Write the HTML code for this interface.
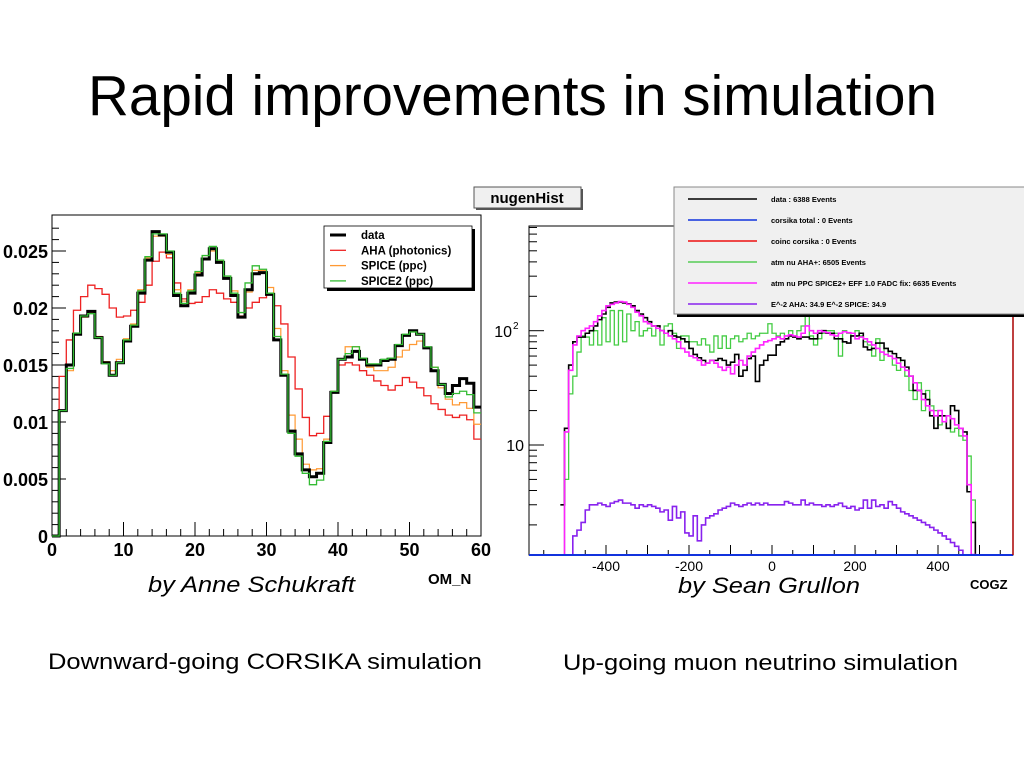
<!DOCTYPE html>
<html><head><meta charset="utf-8"><style>
html,body{margin:0;padding:0;background:#fff;}
svg{display:block;font-family:"Liberation Sans",sans-serif;}
</style></head><body>
<svg id="s" width="1024" height="768" viewBox="0 0 1024 768">
<text x="88" y="115" font-size="57" textLength="849" lengthAdjust="spacingAndGlyphs">Rapid improvements in simulation</text>
<g id="left"></g>
<g id="right"></g>
<text x="148" y="592" font-size="22" font-style="italic" textLength="207" lengthAdjust="spacingAndGlyphs">by Anne Schukraft</text>
<text x="678" y="593" font-size="22" font-style="italic" textLength="182" lengthAdjust="spacingAndGlyphs">by Sean Grullon</text>
<text x="48" y="669" font-size="22" textLength="434" lengthAdjust="spacingAndGlyphs">Downward-going CORSIKA simulation</text>
<text x="563" y="670" font-size="22" textLength="395" lengthAdjust="spacingAndGlyphs">Up-going muon neutrino simulation</text>
</svg>
<script>
// ---------- Left chart data (OM_N, 60 bins) ----------
const leftData = [0,0.011,0.015,0.0177,0.0193,0.0197,0.0174,0.0152,0.0141,0.0152,0.0171,0.0184,0.0213,0.0242,0.0267,0.0264,0.0249,0.0211,0.0202,0.0213,0.0229,0.0243,0.0252,0.024,0.0226,0.0211,0.0192,0.0216,0.0230,0.0231,0.0212,0.0172,0.0141,0.0092,0.0072,0.0058,0.0052,0.0055,0.0082,0.0126,0.0155,0.0157,0.0162,0.0155,0.0150,0.0150,0.0154,0.0155,0.0167,0.0176,0.0180,0.0177,0.0165,0.0145,0.0133,0.0125,0.0132,0.0138,0.0134,0.0113];
const leftAHA = [0,0.014,0.0172,0.0198,0.021,0.022,0.0217,0.0212,0.0200,0.0192,0.0193,0.0198,0.0205,0.0220,0.0241,0.0249,0.0244,0.0222,0.0208,0.0204,0.0205,0.0210,0.0216,0.0213,0.0208,0.0205,0.0193,0.0200,0.0205,0.0209,0.0213,0.0202,0.0186,0.0157,0.0129,0.0104,0.0088,0.009,0.0105,0.0126,0.0150,0.0152,0.0150,0.0145,0.0141,0.0136,0.0132,0.0128,0.0132,0.0139,0.0135,0.0130,0.0123,0.0116,0.0111,0.0106,0.0104,0.0106,0.0102,0.0085];
const leftSPICE = [0,0.011,0.0145,0.0178,0.0192,0.0196,0.0175,0.0153,0.0145,0.0155,0.0173,0.0186,0.0216,0.0244,0.0263,0.0263,0.0247,0.0216,0.0206,0.0216,0.0231,0.0246,0.0250,0.0241,0.0228,0.0215,0.0196,0.0214,0.0233,0.0233,0.0218,0.0182,0.0145,0.0106,0.0085,0.0063,0.0058,0.0059,0.0085,0.0127,0.0155,0.0166,0.0166,0.0156,0.0148,0.0145,0.0145,0.0148,0.0157,0.0163,0.0168,0.0171,0.0165,0.0148,0.0130,0.0120,0.0115,0.0117,0.0112,0.0098];
const leftSPICE2 = [0,0.011,0.0147,0.0178,0.0193,0.0195,0.0174,0.0151,0.0141,0.0152,0.0172,0.0185,0.0215,0.0245,0.0265,0.0265,0.0250,0.0213,0.0204,0.0215,0.0232,0.0246,0.0254,0.0242,0.0228,0.0213,0.0196,0.0222,0.0237,0.0234,0.0213,0.0175,0.0142,0.0090,0.0070,0.0055,0.0045,0.0049,0.0083,0.0127,0.0155,0.0160,0.0166,0.0156,0.0151,0.0151,0.0155,0.0156,0.0168,0.0177,0.0179,0.0177,0.0166,0.0148,0.0133,0.0122,0.0125,0.0127,0.0124,0.0108];
const leftYTicks = [0,0.005,0.01,0.015,0.02,0.025];
const leftYLabels = ["0","0.005","0.01","0.015","0.02","0.025"];
const leftXTicks = [0,10,20,30,40,50,60];
const leftLegend = ["data","AHA (photonics)","SPICE (ppc)","SPICE2 (ppc)"];

// ---------- Right chart data (COGZ, 100 bins of 10 from -510) ----------
const rightData = [3,14,50,80,88,88,95,100,110,125,140,160,175,178,178,175,172,165,150,140,130,120,110,110,100,95,100,90,88,85,80,70,62,58,55,52,55,55,57,55,50,53,62,40,45,57,60,36,50,55,61,61,75,80,85,90,88,85,88,88,85,85,95,100,95,95,85,85,80,78,90,90,95,72,68,70,78,78,70,66,63,58,55,48,40,30,30,28,25,18,14,18,18,14,22,20,14,13,3.9,2.1];
const rightPPC = [1,13,45,75,90,100,105,110,120,135,150,165,170,175,180,178,170,160,145,135,120,115,110,105,100,95,90,85,80,70,65,60,58,55,50,52,55,52,48,45,48,42,50,55,50,60,65,70,75,80,82,85,88,85,90,92,90,88,95,110,100,95,100,98,96,92,90,95,98,96,95,85,88,85,80,75,70,65,62,60,57,52,48,45,40,35,30,25,22,20,18,20,16,18,17,15,14,12,4.5,1.1];
const rightAHA = [0,5,28,40,65,90,88,75,100,75,130,80,150,75,150,80,140,100,120,90,100,105,90,110,75,110,115,95,70,90,90,80,80,75,85,75,65,90,70,90,70,85,90,80,85,95,85,90,95,95,115,95,90,95,85,100,90,100,110,140,90,75,85,95,100,100,95,60,100,95,90,100,90,80,75,60,85,55,70,60,50,45,55,40,30,25,35,20,30,22,20,15,18,14,13,14,12,11,8,3.3];
const rightE2 = [0,0,0,1.6,1.8,2.1,2.7,3.0,3.0,3.1,3.0,2.9,3.1,3.2,3.3,3.1,3.1,3.0,2.8,3.0,2.9,3.0,2.9,2.8,2.6,2.7,2.2,2.9,2.3,2.6,1.7,1.6,2.4,1.45,2.0,2.3,2.4,2.5,2.7,2.8,2.9,3.1,3.0,2.9,3.0,3.1,3.0,3.1,3.0,3.1,3.0,3.0,3.0,3.0,3.2,3.1,3.0,3.0,3.3,3.0,3.1,3.0,3.0,2.9,3.0,2.9,3.0,3.1,2.9,2.8,2.9,2.7,2.8,3.3,2.8,3.3,2.9,3.0,2.8,3.2,3.0,2.8,2.6,2.5,2.4,2.3,2.2,2.1,2.0,1.9,1.8,1.7,1.6,1.5,1.4,1.3,1.2,1.05,0,0];
const rightXTicks = [-400,-200,0,200,400];
const rightLegend = ["data : 6388 Events","corsika total : 0 Events","coinc corsika : 0 Events","atm nu AHA+: 6505 Events","atm nu PPC SPICE2+ EFF 1.0 FADC fix: 6635 Events","E^-2 AHA: 34.9 E^-2 SPICE: 34.9"];

const NS='http://www.w3.org/2000/svg';
function mk(parent,tag,attrs,text){const e=document.createElementNS(NS,tag);for(const k in attrs)e.setAttribute(k,attrs[k]);if(text!==undefined)e.textContent=text;parent.appendChild(e);return e;}

// ---------- LEFT ----------
const L=document.getElementById('left');
const lx0=52,lx1=481,ly0=536,ly1=215;
const xL=v=>lx0+v*(lx1-lx0)/60;
const yL=v=>ly0-v*11400;
let fr=mk(L,'rect',{x:lx0,y:ly1,width:lx1-lx0,height:ly0-ly1,fill:'#fff',stroke:'#000','stroke-width':1});


for(let v=0;v<=0.0275;v+=0.001){const big=Math.abs(v/0.005-Math.round(v/0.005))<1e-6;
 let t=mk(L,'line',{x1:lx0,x2:lx0+(big?14:7),y1:yL(v),y2:yL(v),stroke:'#000','stroke-width':1});
 
 }
for(let v=0;v<=60;v+=2){const big=v%10===0;
 let t=mk(L,'line',{x1:xL(v),x2:xL(v),y1:ly0,y2:ly0-(big?14:7),stroke:'#000','stroke-width':1});
 
 }
leftYTicks.forEach((v,i)=>{let t=mk(L,'text',{x:lx0-4,y:yL(v)+7,'font-size':18,'font-weight':'bold','text-anchor':'end'},leftYLabels[i]);
 
 });
leftXTicks.forEach(v=>{let t=mk(L,'text',{x:xL(v),y:556,'font-size':18,'font-weight':'bold','text-anchor':'middle'},String(v));
 
 });
let ot=mk(L,'text',{x:428,y:584,'font-size':15,'font-weight':'bold'},'OM_N');


function stepL(arr){let d='';arr.forEach((v,i)=>{const y=yL(v);d+=(i===0?'M'+xL(0)+','+y:'V'+y)+'H'+xL(i+1);});return d;}
const lseries=[[leftAHA,'#ee2222',1.3,'series-aha'],[leftSPICE,'#ff9933',1.2,'series-spice'],[leftData,'#000',3,'series-data'],[leftSPICE2,'#33bb33',1.3,'series-spice2']];
lseries.forEach(s=>{let p=mk(L,'path',{d:stepL(s[0]),fill:'none',stroke:s[1],'stroke-width':s[2]});
 
 });
// left legend
let lg=mk(L,'g',{});


mk(lg,'rect',{x:327,y:229,width:148,height:62,fill:'#000'});
mk(lg,'rect',{x:324,y:226,width:148,height:62,fill:'#fff',stroke:'#000','stroke-width':0.8});
const lcol=['#000','#ee2222','#ff9933','#33bb33'];
leftLegend.forEach((n,i)=>{const y=235+i*15.3;
 mk(lg,'line',{x1:330,x2:346,y1:y,y2:y,stroke:lcol[i],'stroke-width':i===0?3:1.3});
 let t=mk(lg,'text',{x:361,y:y+4,'font-size':11.5,'font-weight':'bold'},n);
 
 });

// ---------- RIGHT ----------
const R=document.getElementById('right');
const rx0=529,rx1=1013,ry0=555,ry1=226;
const xR=v=>772+0.415*v;
const yR=n=>n<=0?ry0:Math.min(ry0,330.7+(2-Math.log10(n))*114.3);
let rf=mk(R,'rect',{x:rx0,y:ry1,width:rx1-rx0,height:ry0-ry1,fill:'#fff',stroke:'#000','stroke-width':1});


[2,3,4,5,6,7,8,9,10,20,30,40,50,60,70,80,90,100,200,300,400,500,600,700,800].forEach(n=>{const big=(n===10||n===100);
 let t=mk(R,'line',{x1:rx0,x2:rx0+(big?15:8),y1:yR(n),y2:yR(n),stroke:'#000','stroke-width':1});
 
 });
for(let v=-550;v<=550;v+=50){const big=v%100===0;
 let t=mk(R,'line',{x1:xR(v),x2:xR(v),y1:ry0,y2:ry0-(big?10:5),stroke:'#000','stroke-width':1});
 
 }
rightXTicks.forEach(v=>{let t=mk(R,'text',{x:xR(v),y:571,'font-size':14,'text-anchor':'middle'},String(v));
 
 });
let t1=mk(R,'text',{x:524,y:451,'font-size':16,'text-anchor':'end'},'10');


let t2=mk(R,'text',{x:512,y:337,'font-size':16,'text-anchor':'end'},'10');


mk(R,'text',{x:513,y:329,'font-size':10},'2');
let ct=mk(R,'text',{x:970,y:589,'font-size':13,'font-weight':'bold'},'COGZ');


function stepR(arr){let d='';arr.forEach((v,i)=>{const a=-510+10*i,y=yR(v);d+=(i===0?'M'+xR(a)+','+y:'V'+y)+'H'+xR(a+10);});return d+'V'+ry0;}
const rseries=[[rightAHA,'#44cc44',1.3,'series-aha-plus'],[rightData,'#000',1.6,'series-data'],[rightPPC,'#ff22ff',1.6,'series-ppc-spice2'],[rightE2,'#8822ee',1.6,'series-e-minus-2']];
rseries.forEach(s=>{let p=mk(R,'path',{d:stepR(s[0]),fill:'none',stroke:s[1],'stroke-width':s[2]});
 
 });
let bl=mk(R,'line',{x1:rx0,x2:rx1,y1:ry0,y2:ry0,stroke:'#1133dd','stroke-width':2});


let rl=mk(R,'line',{x1:rx1,x2:rx1,y1:300,y2:ry0,stroke:'#aa0000','stroke-width':1.5});


// title box
let nb=mk(R,'g',{});


mk(nb,'rect',{x:476,y:189,width:107,height:21,fill:'#555'});
mk(nb,'rect',{x:474,y:187,width:107,height:21,fill:'#f0f0f0',stroke:'#555','stroke-width':1});
mk(nb,'text',{x:527,y:203,'font-size':15,'font-weight':'bold','text-anchor':'middle'},'nugenHist');
// legend
let rg=mk(R,'g',{});


mk(rg,'rect',{x:677,y:190,width:360,height:127,fill:'#000'});
mk(rg,'rect',{x:674,y:187,width:360,height:127,fill:'#f0f0f0',stroke:'#888','stroke-width':1});
const rcol=['#000','#1133dd','#ee1111','#55cc55','#ff22ff','#8822ee'];
rightLegend.forEach((n,i)=>{const y=199+i*21;
 mk(rg,'line',{x1:688,x2:757,y1:y,y2:y,stroke:rcol[i],'stroke-width':1.6});
 let t=mk(rg,'text',{x:771,y:y+3,'font-size':7.5,'font-weight':'bold'},n);
 
 });
</script>
</body></html>
